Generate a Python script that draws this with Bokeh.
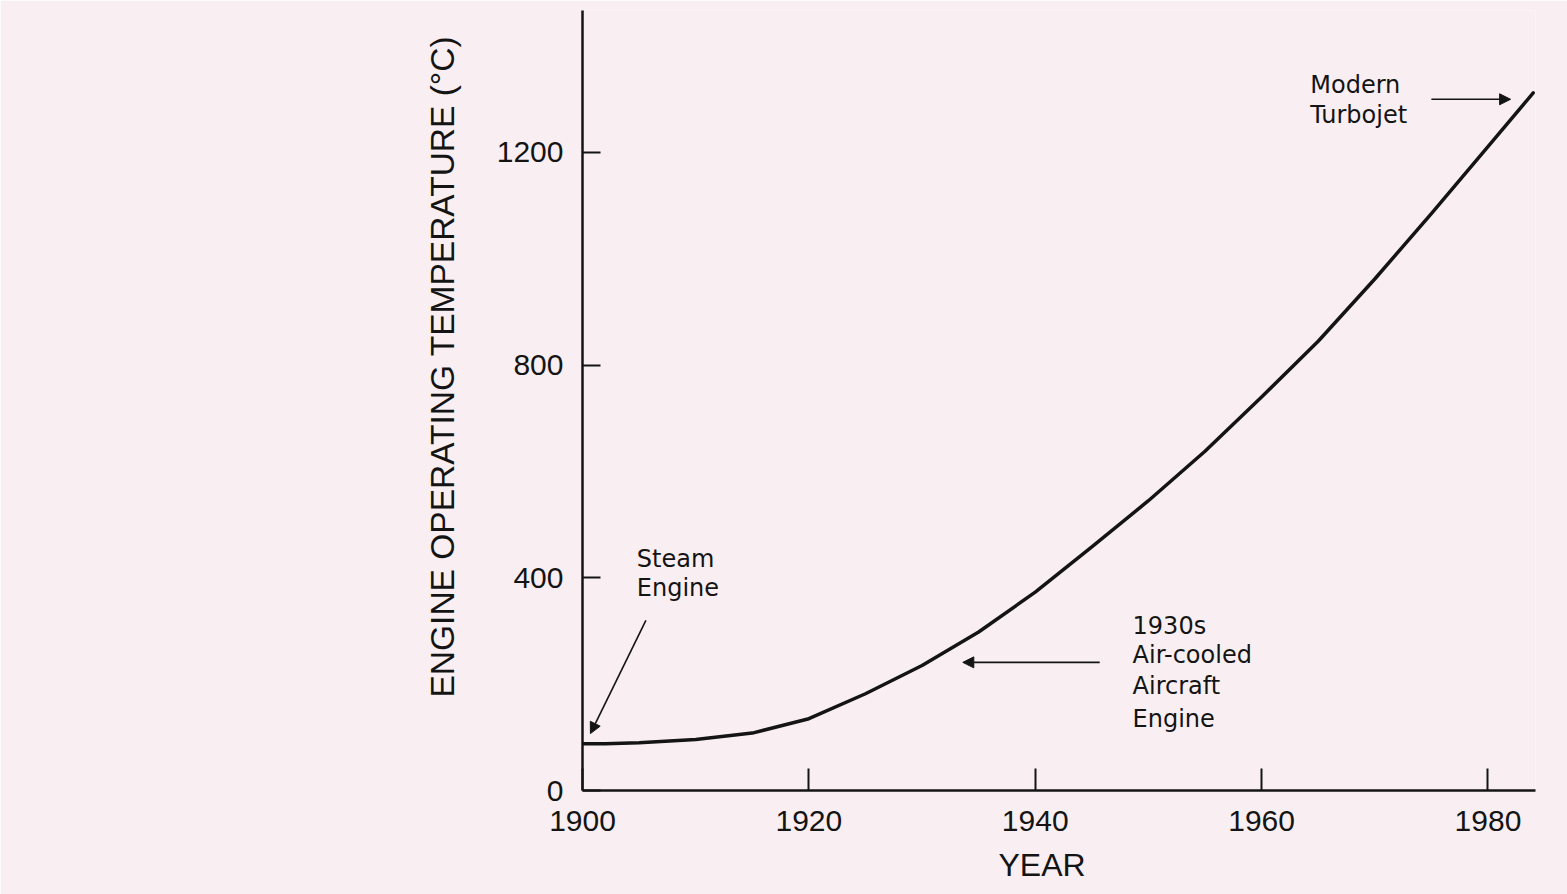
from bokeh.plotting import figure
from bokeh.models import Label, Arrow, NormalHead, FixedTicker, Range1d, Title
from bokeh.embed import file_html
from bokeh.resources import INLINE

# ---- data ----
years = [1900, 1902, 1905, 1910, 1915, 1920, 1925, 1930, 1935, 1940, 1945,
         1950, 1955, 1960, 1965, 1970, 1975, 1980, 1984]
temps = [88, 88, 90, 96, 108, 135, 182, 235, 298, 373, 458,
         545, 638, 740, 845, 962, 1085, 1211, 1312]

x_ticks = [1900, 1920, 1940, 1960, 1980]
y_ticks = [0, 400, 800, 1200]

x_title = "YEAR"
y_title = "ENGINE OPERATING TEMPERATURE (\u00b0C)"

steam_lines = ["Steam", "Engine"]
aircooled_lines = ["1930s", "Air-cooled", "Aircraft", "Engine"]
turbojet_lines = ["Modern", "Turbojet"]

# annotation placement (data units)
steam_text_x, steam_text_y = 1904.8, [436, 380]
steam_arrow = (1905.6, 320, 1900.7, 107)
air_text_x, air_text_y = 1948.6, [310, 254, 196, 135]
air_arrow = (1945.7, 241, 1933.6, 241)
turbo_text_x, turbo_text_y = 1964.3, [1326, 1270]
turbo_arrow = (1975.0, 1300, 1982.0, 1300)

bg = "#f9eff2"
ink = "#141414"
font = "Liberation Sans"
note_font = "DejaVu Sans"

p = figure(width=1567, height=894,
           x_range=Range1d(1900, 1984.2), y_range=Range1d(0, 1467),
           output_backend="svg", toolbar_location=None,
           min_border_left=582, min_border_right=32,
           min_border_top=10, min_border_bottom=104,
           background_fill_color=bg, border_fill_color=bg)
p.outline_line_color = None
p.grid.visible = False

for ax in (p.xaxis[0], p.yaxis[0]):
    ax.axis_line_color = ink
    ax.axis_line_width = 2.5
    ax.major_tick_line_color = ink
    ax.major_tick_line_width = 2
    ax.major_tick_out = 0
    ax.minor_tick_line_color = None
    ax.major_label_text_font = font
    ax.major_label_text_font_size = "30px"
    ax.major_label_text_color = ink

p.xaxis.ticker = FixedTicker(ticks=x_ticks)
p.yaxis.ticker = FixedTicker(ticks=y_ticks)
p.xaxis.major_tick_in = 22
p.yaxis.major_tick_in = 18
p.xaxis.major_label_standoff = 20
p.yaxis.major_label_standoff = 19

p.line(years, temps, line_color=ink, line_width=3.5, line_cap="round", line_join="round")

# axis titles as side-panel titles so they can be offset along the axis
p.add_layout(Title(text=y_title, align="left", offset=93, standoff=66,
                   text_font=font, text_font_size="33.5px", text_font_style="normal",
                   text_color=ink), "left")
p.add_layout(Title(text=x_title, align="left", offset=416, standoff=23,
                   text_font=font, text_font_size="32px", text_font_style="normal",
                   text_color=ink), "below")

def add_lines(xx, ys, lines):
    for yy, t in zip(ys, lines):
        p.add_layout(Label(x=xx, y=yy, text=t, text_align="left", text_baseline="middle",
                           text_font=note_font, text_font_size="24px", text_color=ink))

add_lines(steam_text_x, steam_text_y, steam_lines)
add_lines(air_text_x, air_text_y, aircooled_lines)
add_lines(turbo_text_x, turbo_text_y, turbojet_lines)

for (xs, ys, xe, ye) in (steam_arrow, air_arrow, turbo_arrow):
    p.add_layout(Arrow(x_start=xs, y_start=ys, x_end=xe, y_end=ye,
                       line_color=ink, line_width=1.6,
                       end=NormalHead(size=11, fill_color=ink, line_color=ink)))

open("out.html", "w").write(file_html(p, INLINE))
